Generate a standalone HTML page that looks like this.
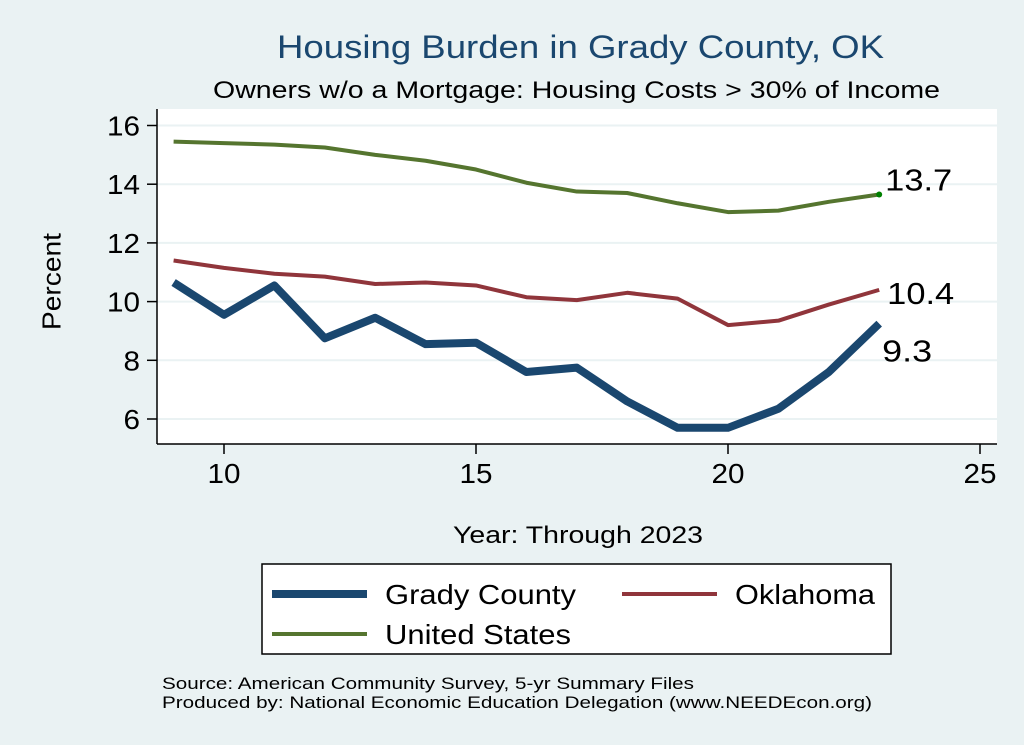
<!DOCTYPE html>
<html><head><meta charset="utf-8"><style>
body{margin:0;background:#eaf2f3;}
svg{display:block;font-family:"Liberation Sans",Arial,sans-serif;}
</style></head><body>
<svg id="chart" width="1024" height="745" viewBox="0 0 1024 745">
<rect x="0" y="0" width="1024" height="745" fill="#eaf2f3"/>
<text x="277" y="58" font-size="32" fill="#1a476f" textLength="607" lengthAdjust="spacingAndGlyphs">Housing Burden in Grady County, OK</text>
<text x="213" y="98" font-size="24" fill="#000" textLength="727" lengthAdjust="spacingAndGlyphs">Owners w/o a Mortgage: Housing Costs &gt; 30% of Income</text>
<rect x="157" y="109" width="840" height="335" fill="#fff"/>
<g id="grid"></g>
<g id="axes"></g>
<g id="series"></g>
<text x="52" y="233" font-size="26" textLength="97" lengthAdjust="spacingAndGlyphs" transform="rotate(-90 52 281.5) translate(-48.5 57)">Percent</text>
<text x="453" y="543" font-size="24" textLength="250" lengthAdjust="spacingAndGlyphs">Year: Through 2023</text>
<g>
<rect x="262" y="564" width="629" height="90" fill="#fff" stroke="#000" stroke-width="1.5"/>
<line x1="272" y1="594" x2="367" y2="594" stroke="#1a476f" stroke-width="8"/>
<text x="385" y="604" font-size="28" textLength="191" lengthAdjust="spacingAndGlyphs">Grady County</text>
<line x1="622" y1="594" x2="717" y2="594" stroke="#90353b" stroke-width="4"/>
<text x="735" y="604" font-size="28" textLength="140" lengthAdjust="spacingAndGlyphs">Oklahoma</text>
<line x1="272" y1="634" x2="367" y2="634" stroke="#55752f" stroke-width="4"/>
<text x="385" y="644" font-size="28" textLength="186" lengthAdjust="spacingAndGlyphs">United States</text>
</g>
<text x="162" y="689" font-size="17" textLength="532" lengthAdjust="spacingAndGlyphs">Source: American Community Survey, 5-yr Summary Files</text>
<text x="162" y="708" font-size="17" textLength="710" lengthAdjust="spacingAndGlyphs">Produced by: National Economic Education Delegation (www.NEEDEcon.org)</text>
</svg>
<script>
const years=[9,10,11,12,13,14,15,16,17,18,19,20,21,22,23];
const grady=[10.65,9.55,10.55,8.75,9.45,8.55,8.6,7.6,7.75,6.6,5.7,5.7,6.35,7.6,9.25];
const oklahoma=[11.4,11.15,10.95,10.85,10.6,10.65,10.55,10.15,10.05,10.3,10.1,9.2,9.35,9.9,10.4];
const us=[15.45,15.4,15.35,15.25,15.0,14.8,14.5,14.05,13.75,13.7,13.35,13.05,13.1,13.4,13.65];
const yTicks=[6,8,10,12,14,16];
const xTicks=[10,15,20,25];
const endLabels=["9.3","10.4","13.7"];
const NS='http://www.w3.org/2000/svg';
function xs(v){return 224+(v-10)*50.4;}
function ys(v){return 419-(v-6)*29.35;}
function mk(tag,attrs,parent){const e=document.createElementNS(NS,tag);for(const k in attrs)e.setAttribute(k,attrs[k]);parent.appendChild(e);return e;}
const grid=document.getElementById('grid'),axes=document.getElementById('axes'),ser=document.getElementById('series');
yTicks.forEach(t=>{
 const g=mk('line',{x1:157,x2:997,y1:ys(t),y2:ys(t),stroke:'#eaf2f3','stroke-width':2},grid);
 
 
 const tk=mk('line',{x1:147,x2:157,y1:ys(t),y2:ys(t),stroke:'#000','stroke-width':1.5},axes);
 
 
 const s=String(t);
 const tx=mk('text',{x:140,y:ys(t)+10,'font-size':28,'text-anchor':'end',textLength:s.length*16.5,lengthAdjust:'spacingAndGlyphs'},axes);
 tx.textContent=t;
 
 
});
xTicks.forEach(t=>{
 const tk=mk('line',{x1:xs(t),x2:xs(t),y1:444,y2:454,stroke:'#000','stroke-width':1.5},axes);
 
 
 const tx=mk('text',{x:xs(t),y:483,'font-size':28,'text-anchor':'middle',textLength:33,lengthAdjust:'spacingAndGlyphs'},axes);
 tx.textContent=t;
 
 
});
const ax1=mk('line',{x1:157,x2:157,y1:109,y2:444,stroke:'#000','stroke-width':1.5},axes);


const ax2=mk('line',{x1:157,x2:997,y1:444,y2:444,stroke:'#000','stroke-width':1.5},axes);


function line(vals,color,w,name){
 const p=mk('polyline',{points:vals.map((v,i)=>xs(years[i])+','+ys(v)).join(' '),fill:'none',stroke:color,'stroke-width':w,'stroke-linejoin':'round'},ser);
 
 
}
line(us,'#55752f',4,'line-united-states');
line(oklahoma,'#90353b',4,'line-oklahoma');
line(grady,'#1a476f',8,'line-grady-county');
const n=years.length-1;
const dot=mk('circle',{cx:xs(years[n]),cy:ys(us[n]),r:3,fill:'#008000'},ser);


const l1=mk('text',{x:xs(years[n])+3,y:ys(grady[n])+38,'font-size':31,textLength:50,lengthAdjust:'spacingAndGlyphs'},ser);
l1.textContent=endLabels[0];


const l2=mk('text',{x:xs(years[n])+8,y:ys(oklahoma[n])+14,'font-size':31,textLength:67,lengthAdjust:'spacingAndGlyphs'},ser);
l2.textContent=endLabels[1];


const l3=mk('text',{x:xs(years[n])+6,y:ys(us[n])-4,'font-size':31,textLength:67,lengthAdjust:'spacingAndGlyphs'},ser);
l3.textContent=endLabels[2];


</script>
</body></html>
